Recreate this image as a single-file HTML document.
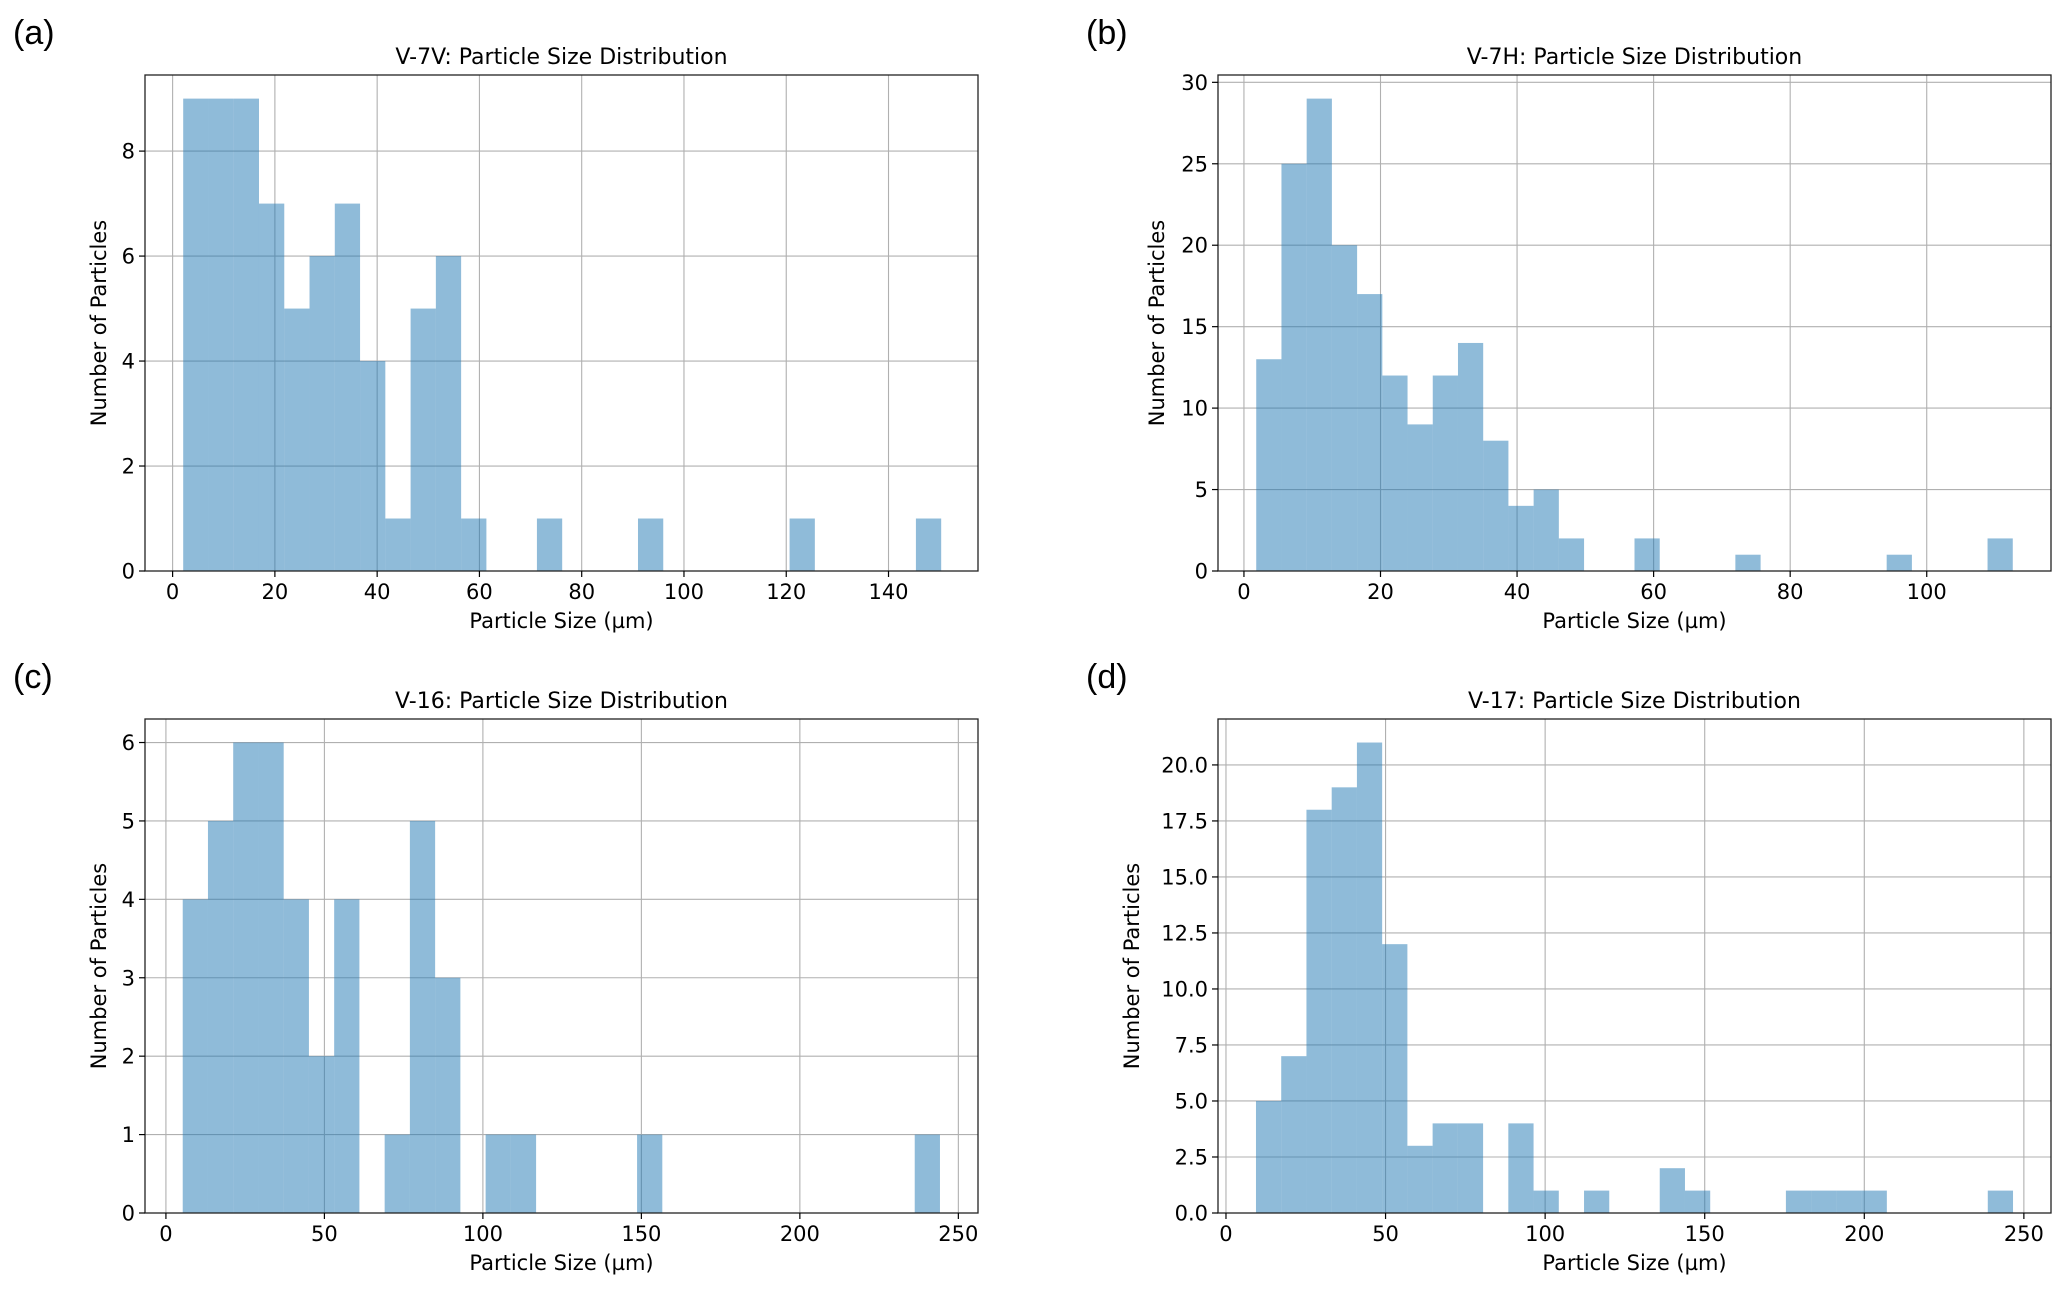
<!DOCTYPE html>
<html><head><meta charset="utf-8"><style>
html,body{margin:0;padding:0;background:#fff;}
svg{display:block;font-family:"DejaVu Sans","Liberation Sans",sans-serif;}
</style></head><body>
<svg id="fig" width="2067" height="1297" viewBox="0 0 2067 1297" xmlns="http://www.w3.org/2000/svg"></svg>
<script>
const countsA = [9,9,9,7,5,6,7,4,1,5,6,1,0,0,1,0,0,0,1,0,0,0,0,0,1,0,0,0,0,1];
const countsB = [13,25,29,20,17,12,9,12,14,8,4,5,2,0,0,2,0,0,0,1,0,0,0,0,0,1,0,0,0,2];
const countsC = [4,5,6,6,4,2,4,0,1,5,3,0,1,1,0,0,0,0,1,0,0,0,0,0,0,0,0,0,0,1];
const countsD = [5,7,18,19,21,12,3,4,4,0,4,1,0,1,0,0,2,1,0,0,0,1,1,1,1,0,0,0,0,1];
const rangeA = [2.07, 150.3];
const rangeB = [1.8, 112.6];
const rangeC = [5.3, 244.2];
const rangeD = [9.4, 246.6];
const xTicksA = [0,20,40,60,80,100,120,140];
const xTicksB = [0,20,40,60,80,100];
const xTicksC = [0,50,100,150,200,250];
const xTicksD = [0,50,100,150,200,250];
const yTicksA = [0,2,4,6,8];
const yTicksB = [0,5,10,15,20,25,30];
const yTicksC = [0,1,2,3,4,5,6];
const yTicksD = [0,2.5,5,7.5,10,12.5,15,17.5,20];
const titles = ["V-7V: Particle Size Distribution","V-7H: Particle Size Distribution","V-16: Particle Size Distribution","V-17: Particle Size Distribution"];
const letters = ["(a)","(b)","(c)","(d)"];

const NS="http://www.w3.org/2000/svg";
const svg=document.getElementById('fig');
function mk(tag,attrs,parent){const e=document.createElementNS(NS,tag);for(const k in attrs)e.setAttribute(k,attrs[k]);(parent||svg).appendChild(e);return e;}

const panels=[
 {c:countsA,r:rangeA,xt:xTicksA,yt:yTicksA,xl:-5.4,xh:157.5,L:145,T:75,H:496,dec:0,id:'a',yo:46},
 {c:countsB,r:rangeB,xt:xTicksB,yt:yTicksB,xl:-3.8,xh:118.2,L:1218,T:75,H:496,dec:0,id:'b',yo:61},
 {c:countsC,r:rangeC,xt:xTicksC,yt:yTicksC,xl:-6.6,xh:256.2,L:145,T:719,H:494,dec:0,id:'c',yo:46},
 {c:countsD,r:rangeD,xt:xTicksD,yt:yTicksD,xl:-2.5,xh:258.5,L:1218,T:719,H:494,dec:1,id:'d',yo:86}
];
const W=833;
panels.forEach((p,i)=>{
  const H=p.H;
  const g=mk('g',{});
  
  
  const ymax=Math.max(...p.c)*1.05;
  const sx=v=>p.L+(v-p.xl)/(p.xh-p.xl)*W;
  const sy=v=>p.T+H-v/ymax*H;
  p.xt.forEach(t=>{const l=mk('line',{x1:sx(t),x2:sx(t),y1:p.T,y2:p.T+H,stroke:'#b0b0b0','stroke-width':1.1},g);
    });
  p.yt.forEach(t=>{const l=mk('line',{x1:p.L,x2:p.L+W,y1:sy(t),y2:sy(t),stroke:'#b0b0b0','stroke-width':1.1},g);
    });
  const bw=(p.r[1]-p.r[0])/p.c.length;
  p.c.forEach((v,k)=>{ if(v<=0) return;
    const x0=sx(p.r[0]+k*bw),x1=sx(p.r[0]+(k+1)*bw);
    const b=mk('rect',{x:x0,y:sy(v),width:x1-x0,height:sy(0)-sy(v),fill:'#1f77b4','fill-opacity':0.5},g);
    
    
  });
  const f=mk('rect',{x:p.L,y:p.T,width:W,height:H,fill:'none',stroke:'#222','stroke-width':1.3},g);
  
  p.xt.forEach(t=>{mk('line',{x1:sx(t),x2:sx(t),y1:p.T+H,y2:p.T+H+6,stroke:'#000','stroke-width':1.2},g);
    const tx=mk('text',{x:sx(t),y:p.T+H+28,'font-size':21,'text-anchor':'middle',fill:'#000'},g);tx.textContent=t;
    });
  p.yt.forEach(t=>{mk('line',{x1:p.L-6,x2:p.L,y1:sy(t),y2:sy(t),stroke:'#000','stroke-width':1.2},g);
    const tx=mk('text',{x:p.L-10,y:sy(t)+7.5,'font-size':21,'text-anchor':'end',fill:'#000'},g);tx.textContent=p.dec?t.toFixed(1):t;
    });
  const xl=mk('text',{x:p.L+W/2,y:p.T+H+57,'font-size':21,'text-anchor':'middle'},g);xl.textContent='Particle Size (µm)';
  
  const cy=p.T+H/2;const cx=p.L-p.yo+7;
  const yl=mk('text',{x:cx,y:cy,'font-size':21,'text-anchor':'middle',transform:`rotate(-90 ${cx} ${cy})`},g);yl.textContent='Number of Particles';
  
  const ti=mk('text',{x:p.L+W/2,y:p.T-11,'font-size':22,'text-anchor':'middle'},g);ti.textContent=titles[i];
  
  const le=mk('text',{x:p.L-132,y:p.T-31,'font-size':34,'font-family':'Liberation Sans, sans-serif'},g);le.textContent=letters[i];
  
});
</script>
</body></html>
